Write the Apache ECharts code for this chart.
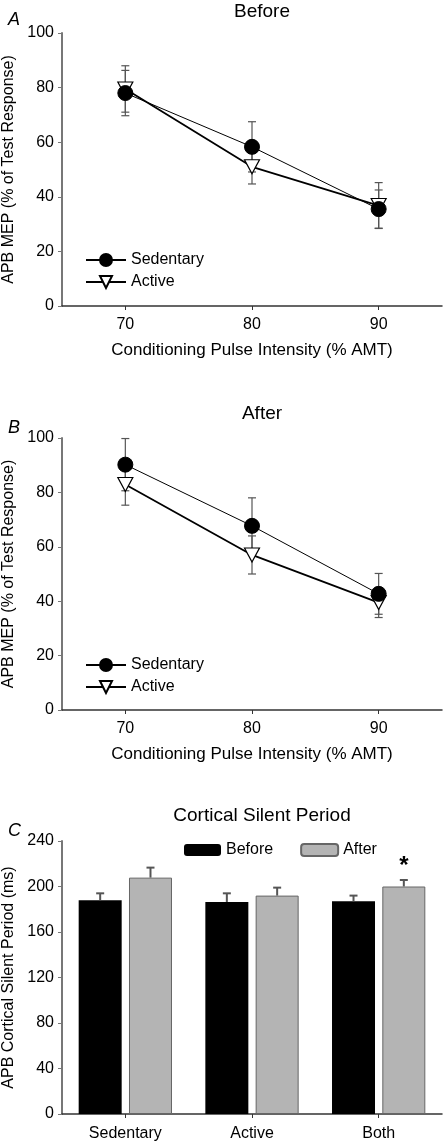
<!DOCTYPE html>
<html>
<head>
<meta charset="utf-8">
<script src="https://cdn.jsdelivr.net/npm/echarts@6/dist/echarts.min.js"></script>
<style>
html,body{margin:0;padding:0;background:#fff;}
#chart{width:444px;height:1144px;}
</style>
</head>
<body>
<div id="chart"></div>
<script>
// ---- data ----
const intensities = ['70', '80', '90'];
const yTicksLine = [0, 20, 40, 60, 80, 100];
const yTicksBar = [0, 40, 80, 120, 160, 200, 240];

const beforeSedentary = [78, 58.3, 35.5];
const beforeSedentaryErr = [8.3, 9.2, 7];
const beforeActive = [79.5, 51, 36.8];
const beforeActiveErr = [8.5, 6.3, 8.4];

const afterSedentary = [90.2, 67.7, 42.7];
const afterSedentaryErr = [9.6, 10.3, 7.5];
const afterActive = [82.9, 57, 39.5];
const afterActiveErr = [7.6, 7, 5.5];

const groups = ['Sedentary', 'Active', 'Both'];
const silentBefore = [187.9, 186.4, 187];
const silentBeforeErr = [6.1, 7.6, 5];
const silentAfter = [207.8, 192, 200];
const silentAfterErr = [8.8, 7, 5.7];
const silentAfterSig = ['', '', '*'];

// ---- style ----
const FONT = '"Liberation Sans", Arial, sans-serif';
const AXIS_GRAY = '#777';
const ERR_GRAY = '#555';
const BAR_GRAY = '#b4b4b4';
const BAR_W = 43;
const BAR_GAP = 0.17;

function yAxisCfg(gridIndex, name, max, interval) {
  return {
    type: 'value', gridIndex: gridIndex, min: 0, max: max, interval: interval,
    name: name, nameLocation: 'middle', nameGap: 43, nameRotate: 90,
    nameTextStyle: {fontFamily: FONT, fontSize: 16, color: '#000'},
    axisLine: {show: true, lineStyle: {color: AXIS_GRAY, width: 2}},
    axisTick: {show: true, length: 4, lineStyle: {color: AXIS_GRAY, width: 1}},
    axisLabel: {fontFamily: FONT, fontSize: 16, color: '#000', margin: 8},
    splitLine: {show: false}
  };
}
function xAxisCfg(gridIndex, data, name) {
  return {
    type: 'category', gridIndex: gridIndex, data: data, boundaryGap: true,
    name: name, nameLocation: 'middle', nameGap: 36,
    nameTextStyle: {fontFamily: FONT, fontSize: 17, color: '#000'},
    axisLine: {show: true, lineStyle: {color: '#333', width: 1.5}},
    axisTick: {show: true, alignWithLabel: true, length: 4, lineStyle: {color: '#333', width: 1}},
    axisLabel: {fontFamily: FONT, fontSize: 16, color: '#000', margin: 11},
    splitLine: {show: false}
  };
}

// symmetric error bars on line points
function errSeries(name, axisIdx, vals, errs) {
  return {
    type: 'custom', name: name + ' err', xAxisIndex: axisIdx, yAxisIndex: axisIdx, z: 1,
    silent: true,
    data: vals.map((v, i) => [i, v, errs[i]]),
    renderItem: function (params, api) {
      const x = api.value(0), v = api.value(1), e = api.value(2);
      const top = api.coord([x, v + e]);
      const bot = api.coord([x, v - e]);
      const hw = 4;
      const st = {stroke: ERR_GRAY, lineWidth: 1.2};
      return {type: 'group', children: [
        {type: 'line', shape: {x1: top[0], y1: top[1], x2: bot[0], y2: bot[1]}, style: st},
        {type: 'line', shape: {x1: top[0] - hw, y1: top[1], x2: top[0] + hw, y2: top[1]}, style: st},
        {type: 'line', shape: {x1: bot[0] - hw, y1: bot[1], x2: bot[0] + hw, y2: bot[1]}, style: st}
      ]};
    }
  };
}
function lineSeries(name, axisIdx, vals, sed) {
  return {
    type: 'line', name: name, xAxisIndex: axisIdx, yAxisIndex: axisIdx, data: vals,
    z: sed ? 4 : 3,
    symbol: sed ? 'circle' : 'triangle',
    symbolSize: sed ? 15 : [15, 14],
    symbolRotate: sed ? 0 : 180,
    showAllSymbol: true,
    lineStyle: {color: '#000', width: sed ? 1 : 1.8},
    itemStyle: sed ? {color: '#000', borderColor: '#000', borderWidth: 1}
                   : {color: '#fff', borderColor: '#000', borderWidth: 1.2},
    emphasis: {disabled: true},
    animation: false
  };
}
// upper-only error bars for grouped bars
function barErrSeries(name, vals, errs, side, sig) {
  return {
    type: 'custom', name: name + ' err', xAxisIndex: 2, yAxisIndex: 2, z: 5, silent: true,
    data: vals.map((v, i) => [i, v, errs[i]]),
    renderItem: function (params, api) {
      const i = api.value(0), v = api.value(1), e = api.value(2);
      const base = api.coord([i, v]);
      const top = api.coord([i, v + e]);
      const off = side * BAR_W * (1 + BAR_GAP) / 2;
      const cx = base[0] + off;
      const st = {stroke: ERR_GRAY, lineWidth: 2};
      const children = [
        {type: 'line', shape: {x1: cx, y1: base[1], x2: cx, y2: top[1]}, style: st},
        {type: 'line', shape: {x1: cx - 4, y1: top[1], x2: cx + 4, y2: top[1]}, style: st}
      ];
      if (sig && sig[i]) {
        children.push({type: 'text', style: {text: sig[i], x: cx, y: top[1] - 2,
          fill: '#000', font: 'bold 24px ' + FONT, textAlign: 'center', textVerticalAlign: 'bottom'}});
      }
      return {type: 'group', children: children};
    }
  };
}

const titleStyle = {fontFamily: FONT, fontSize: 19, fontWeight: 'normal', color: '#000'};
const letterStyle = {fontFamily: FONT, fontSize: 18, fontWeight: 'normal', fontStyle: 'italic', color: '#000'};
const legendText = {fontFamily: FONT, fontSize: 16, color: '#000'};

const option = {
  backgroundColor: '#fff',
  animation: false,
  title: [
    {text: 'Before', left: 257, top: -3, textAlign: 'center', textStyle: titleStyle},
    {text: 'After', left: 257, top: 399, textAlign: 'center', textStyle: titleStyle},
    {text: 'Cortical Silent Period', left: 257, top: 801, textAlign: 'center', textStyle: titleStyle},
    {text: 'A', left: 3, top: 6, textStyle: letterStyle},
    {text: 'B', left: 3, top: 414, textStyle: letterStyle},
    {text: 'C', left: 3, top: 817, textStyle: letterStyle}
  ],
  legend: [
    {orient: 'vertical', left: 85, top: 252, padding: 0, itemWidth: 40, itemHeight: 15, itemGap: 6,
     data: ['Sedentary', 'Active'], selectedMode: false, textStyle: legendText},
    {orient: 'vertical', left: 85, top: 657, padding: 0, itemWidth: 40, itemHeight: 15, itemGap: 6,
     data: ['Sedentary', 'Active'], selectedMode: false, textStyle: legendText},
    {orient: 'horizontal', left: 184, top: 842, padding: 0, itemWidth: 37, itemHeight: 12, itemGap: 27,
     data: ['Before', 'After'], selectedMode: false, textStyle: legendText}
  ],
  grid: [
    {left: 62, right: 2, top: 33, height: 273, outerBoundsMode: 'none', containLabel: false},
    {left: 62, right: 2, top: 438, height: 272, outerBoundsMode: 'none', containLabel: false},
    {left: 62, right: 2, top: 841, height: 273, outerBoundsMode: 'none', containLabel: false}
  ],
  xAxis: [
    xAxisCfg(0, intensities, 'Conditioning Pulse Intensity (% AMT)'),
    xAxisCfg(1, intensities, 'Conditioning Pulse Intensity (% AMT)'),
    Object.assign(xAxisCfg(2, groups, ''), {axisLabel: {fontFamily: FONT, fontSize: 16, color: '#000', margin: 12}})
  ],
  yAxis: [
    yAxisCfg(0, 'APB MEP (% of Test Response)', yTicksLine[yTicksLine.length - 1], yTicksLine[1] - yTicksLine[0]),
    yAxisCfg(1, 'APB MEP (% of Test Response)', yTicksLine[yTicksLine.length - 1], yTicksLine[1] - yTicksLine[0]),
    yAxisCfg(2, 'APB Cortical Silent Period (ms)', yTicksBar[yTicksBar.length - 1], yTicksBar[1] - yTicksBar[0])
  ],
  series: [
    errSeries('Active', 0, beforeActive, beforeActiveErr),
    errSeries('Sedentary', 0, beforeSedentary, beforeSedentaryErr),
    lineSeries('Active', 0, beforeActive, false),
    lineSeries('Sedentary', 0, beforeSedentary, true),
    errSeries('Active', 1, afterActive, afterActiveErr),
    errSeries('Sedentary', 1, afterSedentary, afterSedentaryErr),
    lineSeries('Active', 1, afterActive, false),
    lineSeries('Sedentary', 1, afterSedentary, true),
    {type: 'bar', name: 'Before', xAxisIndex: 2, yAxisIndex: 2, data: silentBefore,
     barWidth: BAR_W, barGap: (BAR_GAP * 100) + '%', z: 2,
     itemStyle: {color: '#000', borderColor: '#000', borderWidth: 0}, emphasis: {disabled: true}},
    {type: 'bar', name: 'After', xAxisIndex: 2, yAxisIndex: 2, data: silentAfter,
     barWidth: BAR_W, barGap: (BAR_GAP * 100) + '%', z: 2,
     itemStyle: {color: BAR_GRAY, borderColor: '#666', borderWidth: 1}, emphasis: {disabled: true}},
    barErrSeries('Before', silentBefore, silentBeforeErr, -1, null),
    barErrSeries('After', silentAfter, silentAfterErr, 1, silentAfterSig)
  ]
};

const chart = echarts.init(document.getElementById('chart'), null, {renderer: 'canvas'});
chart.setOption(option);
</script>
</body>
</html>
